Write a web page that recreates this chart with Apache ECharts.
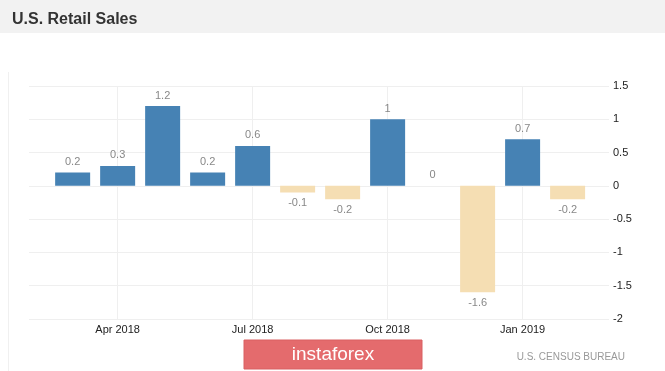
<!DOCTYPE html>
<html>
<head>
<meta charset="utf-8">
<script src="https://cdn.jsdelivr.net/npm/echarts@6/dist/echarts.min.js"></script>
<style>
html,body{margin:0;padding:0;background:#fff;}
#c{width:665px;height:371px;}
</style>
</head>
<body>
<div id="c"></div>
<script>
var months = ['Mar 2018','Apr 2018','May 2018','Jun 2018','Jul 2018','Aug 2018','Sep 2018','Oct 2018','Nov 2018','Dec 2018','Jan 2019','Feb 2019'];
var values = [0.2, 0.3, 1.2, 0.2, 0.6, -0.1, -0.2, 1, 0, -1.6, 0.7, -0.2];
var tickMonths = ['Apr 2018','Jul 2018','Oct 2018','Jan 2019'];
var yMin = -2, yMax = 1.5, yStep = 0.5;
var titleText = 'U.S. Retail Sales';
var sourceText = 'U.S. CENSUS BUREAU';
var watermarkText = 'instaforex';

var tickIdx = tickMonths.map(function(m){ return months.indexOf(m); });
var POS = '#4682B4', NEG = '#F5DEB3';

var seriesData = values.map(function(v, i){
  return {
    value: [i, v],
    itemStyle: {color: v < 0 ? NEG : POS},
    label: {position: v < 0 ? 'bottom' : 'top'}
  };
});

var chart = echarts.init(document.getElementById('c'), null, {renderer:'canvas'});
chart.setOption({
  animation: false,
  backgroundColor: '#fff',
  textStyle: {fontFamily: '"Liberation Sans", Arial, sans-serif'},
  title: {
    text: titleText, left: 7, top: 7,
    textStyle: {fontSize: 16, fontWeight: 'bold', color: '#333', fontFamily: '"Liberation Sans", Arial, sans-serif'}
  },
  graphic: [
    {type:'rect', z:-10, shape:{x:0,y:0,width:665,height:33}, style:{fill:'#f2f2f2'}},
    {type:'line', z:-10, shape:{x1:8.5,y1:72,x2:8.5,y2:371}, style:{stroke:'#f0f0f0', lineWidth:1}},
    {type:'rect', shape:{x:244,y:340,width:178,height:29}, style:{fill:'#e46b6d', stroke:'#d96062', lineWidth:1}},
    {type:'text', style:{x:333, y:355, text: watermarkText, fill:'#fff', font:'19px "Liberation Sans", Arial, sans-serif', align:'center', verticalAlign:'middle'}},
    {type:'text', style:{x:625, y:357, text: sourceText, fill:'#999', font:'10px "Liberation Sans", Arial, sans-serif', align:'right', verticalAlign:'middle'}}
  ],
  grid: {left: 29, right: 56, top: 86, bottom: 52, containLabel: false},
  xAxis: {
    type: 'value',
    min: -0.97, max: 11.92,
    axisLine: {show: false},
    axisTick: {show: false, customValues: tickIdx},
    splitLine: {show: true, lineStyle: {color: '#efefef', width: 1}},
    axisLabel: {
      customValues: tickIdx,
      margin: 5,
      color: '#222', fontSize: 11,
      formatter: function(v){ return months[Math.round(v)]; }
    }
  },
  yAxis: {
    type: 'value', position: 'right',
    min: yMin, max: yMax, interval: yStep,
    axisLine: {show: false},
    axisTick: {show: false},
    splitLine: {show: true, lineStyle: {color: '#efefef', width: 1}},
    axisLabel: {margin: 4, color: '#222', fontSize: 11}
  },
  series: [{
    type: 'bar',
    barWidth: 35,
    data: seriesData,
    label: {
      show: true, distance: 5, color: '#888', fontSize: 11,
      formatter: function(p){ return String(p.value[1]); }
    }
  }]
});
</script>
</body>
</html>
